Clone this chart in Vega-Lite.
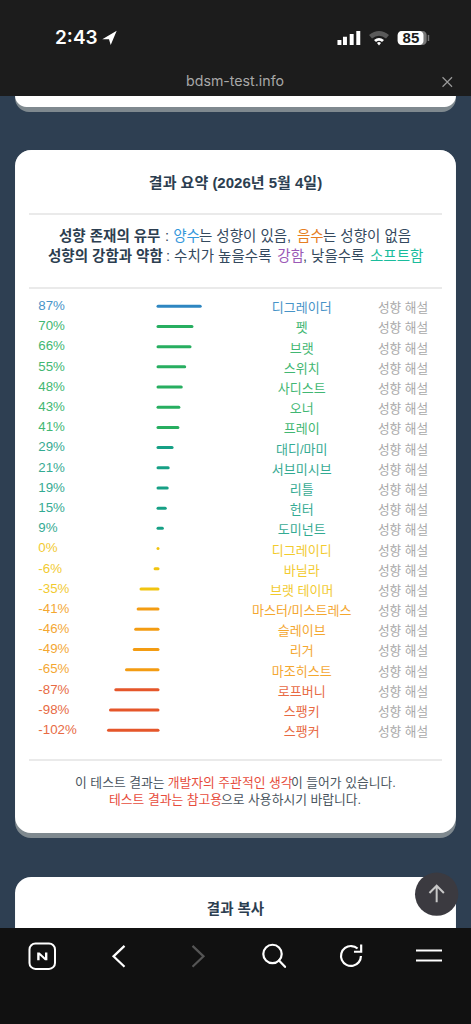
{
"$schema":"https://vega.github.io/schema/vega-lite/v6.json",
"width":471,"height":1024,"padding":0,
"autosize":{"type":"fit","contains":"padding"},
"background":"#2e3f52",
"config":{"view":{"stroke":null},"axis":{"disable":true},"text":{"font":"Liberation Sans, Noto Sans CJK KR","baseline":"middle"},"point":{"opacity":1}},
"datasets":{
"one":[{"id":1}],
"rows":[
{"rank":0,"v":87,"label":"87%","name":"디그레이더","band":"blue","link":"성향 해설"},
{"rank":1,"v":70,"label":"70%","name":"펫","band":"green","link":"성향 해설"},
{"rank":2,"v":66,"label":"66%","name":"브랫","band":"green","link":"성향 해설"},
{"rank":3,"v":55,"label":"55%","name":"스위치","band":"green","link":"성향 해설"},
{"rank":4,"v":48,"label":"48%","name":"사디스트","band":"green","link":"성향 해설"},
{"rank":5,"v":43,"label":"43%","name":"오너","band":"green","link":"성향 해설"},
{"rank":6,"v":41,"label":"41%","name":"프레이","band":"green","link":"성향 해설"},
{"rank":7,"v":29,"label":"29%","name":"대디/마미","band":"teal","link":"성향 해설"},
{"rank":8,"v":21,"label":"21%","name":"서브미시브","band":"teal","link":"성향 해설"},
{"rank":9,"v":19,"label":"19%","name":"리틀","band":"teal","link":"성향 해설"},
{"rank":10,"v":15,"label":"15%","name":"헌터","band":"teal","link":"성향 해설"},
{"rank":11,"v":9,"label":"9%","name":"도미넌트","band":"teal","link":"성향 해설"},
{"rank":12,"v":0,"label":"0%","name":"디그레이디","band":"yellow","link":"성향 해설"},
{"rank":13,"v":-6,"label":"-6%","name":"바닐라","band":"yellow","link":"성향 해설"},
{"rank":14,"v":-35,"label":"-35%","name":"브랫 테이머","band":"yellow","link":"성향 해설"},
{"rank":15,"v":-41,"label":"-41%","name":"마스터/미스트레스","band":"orange","link":"성향 해설"},
{"rank":16,"v":-46,"label":"-46%","name":"슬레이브","band":"orange","link":"성향 해설"},
{"rank":17,"v":-49,"label":"-49%","name":"리거","band":"orange","link":"성향 해설"},
{"rank":18,"v":-65,"label":"-65%","name":"마조히스트","band":"orange","link":"성향 해설"},
{"rank":19,"v":-87,"label":"-87%","name":"로프버니","band":"red","link":"성향 해설"},
{"rank":20,"v":-98,"label":"-98%","name":"스팽키","band":"red","link":"성향 해설"},
{"rank":21,"v":-102,"label":"-102%","name":"스팽커","band":"red","link":"성향 해설"}
]},
"layer":[
{"data":{"name":"one"},"mark":{"type":"rect","cornerRadius":16,"color":"#7f898f"},"encoding":{"x":{"datum":-294.8,"scale":{"domain":[-325.8,645.4],"nice":false,"zero":false}},"x2":{"datum":614.4},"y":{"datum":-11,"scale":{"domain":[35.55,-15.17],"nice":false,"zero":false}},"y2":{"datum":-9.62}}},
{"data":{"name":"one"},"mark":{"type":"rect","cornerRadius":16,"color":"#ffffff"},"encoding":{"x":{"datum":-294.8},"x2":{"datum":614.4},"y":{"datum":-11},"y2":{"datum":-9.87}}},
{"data":{"name":"one"},"mark":{"type":"rect","cornerRadius":16,"color":"#7f898f"},"encoding":{"x":{"datum":-294.8},"x2":{"datum":614.4},"y":{"datum":-7.74},"y2":{"datum":26.34}}},
{"data":{"name":"one"},"mark":{"type":"rect","cornerRadius":16,"color":"#ffffff"},"encoding":{"x":{"datum":-294.8},"x2":{"datum":614.4},"y":{"datum":-7.74},"y2":{"datum":26.09}}},
{"data":{"name":"one"},"mark":{"type":"rect","cornerRadius":16,"color":"#ffffff"},"encoding":{"x":{"datum":-294.8},"x2":{"datum":614.4},"y":{"datum":28.27},"y2":{"datum":34}}},
{"data":{"name":"one"},"mark":{"type":"rule","color":"#e3e3e3","strokeWidth":1.5},"encoding":{"x":{"datum":-266},"x2":{"datum":585.6},"y":{"datum":-4.57}}},
{"data":{"name":"one"},"mark":{"type":"rule","color":"#e3e3e3","strokeWidth":1.5},"encoding":{"x":{"datum":-266},"x2":{"datum":585.6},"y":{"datum":-0.91}}},
{"data":{"name":"one"},"mark":{"type":"rule","color":"#e3e3e3","strokeWidth":1.5},"encoding":{"x":{"datum":-266},"x2":{"datum":585.6},"y":{"datum":22.47}}},
{"data":{"name":"one"},"mark":{"type":"text","text":"결과 요약 (2026년 5월 4일)","align":"center","fontSize":15,"fontWeight":"bold","color":"#2c3e50"},"encoding":{"x":{"datum":159.8},"y":{"datum":-6.11}}},
{"data":{"name":"one"},"mark":{"type":"text","text":"성향 존재의 유무","align":"left","fontSize":14.5,"fontWeight":"bold","color":"#2c3e50"},"encoding":{"x":{"datum":-204.1},"y":{"datum":-3.41}}},
{"data":{"name":"one"},"mark":{"type":"text","text":":","align":"left","fontSize":14.5,"color":"#34495e"},"encoding":{"x":{"datum":14.4},"y":{"datum":-3.41}}},
{"data":{"name":"one"},"mark":{"type":"text","text":"양수","align":"left","fontSize":14.5,"color":"#3498db"},"encoding":{"x":{"datum":31.5},"y":{"datum":-3.41}}},
{"data":{"name":"one"},"mark":{"type":"text","text":"는 성향이 있음,","align":"left","fontSize":14.5,"color":"#34495e"},"encoding":{"x":{"datum":84.5},"y":{"datum":-3.41}}},
{"data":{"name":"one"},"mark":{"type":"text","text":"음수","align":"left","fontSize":14.5,"color":"#e67e22"},"encoding":{"x":{"datum":286.6},"y":{"datum":-3.41}}},
{"data":{"name":"one"},"mark":{"type":"text","text":"는 성향이 없음","align":"left","fontSize":14.5,"color":"#34495e"},"encoding":{"x":{"datum":340.2},"y":{"datum":-3.41}}},
{"data":{"name":"one"},"mark":{"type":"text","text":"성향의 강함과 약함","align":"left","fontSize":14.5,"fontWeight":"bold","color":"#2c3e50"},"encoding":{"x":{"datum":-226.8},"y":{"datum":-2.44}}},
{"data":{"name":"one"},"mark":{"type":"text","text":": 수치가 높을수록","align":"left","fontSize":14.5,"color":"#34495e"},"encoding":{"x":{"datum":16.5},"y":{"datum":-2.44}}},
{"data":{"name":"one"},"mark":{"type":"text","text":"강함","align":"left","fontSize":14.5,"color":"#9b59b6"},"encoding":{"x":{"datum":246},"y":{"datum":-2.44}}},
{"data":{"name":"one"},"mark":{"type":"text","text":", 낮을수록","align":"left","fontSize":14.5,"color":"#34495e"},"encoding":{"x":{"datum":299},"y":{"datum":-2.44}}},
{"data":{"name":"one"},"mark":{"type":"text","text":"소프트함","align":"left","fontSize":14.5,"color":"#1abc9c"},"encoding":{"x":{"datum":437.1},"y":{"datum":-2.44}}},
{"data":{"name":"rows"},"mark":{"type":"rule","strokeWidth":3,"strokeCap":"round"},"encoding":{"x":{"field":"v","type":"quantitative"},"x2":{"datum":0},"y":{"field":"rank","type":"quantitative"},"color":{"field":"band","type":"nominal","legend":null,"scale":{"domain":["blue","green","teal","yellow","orange","red"],"range":["#2e86c1","#27ae60","#16a085","#f1c40f","#f39c12","#e5562a"]}}}},
{"data":{"name":"rows"},"mark":{"type":"text","align":"left","fontSize":13.3,"dy":-0.2,"opacity":0.88},"encoding":{"x":{"datum":-246.8},"y":{"field":"rank","type":"quantitative"},"text":{"field":"label"},"color":{"field":"band","type":"nominal","legend":null}}},
{"data":{"name":"rows"},"mark":{"type":"text","align":"center","fontSize":13,"dy":2,"opacity":0.88},"encoding":{"x":{"datum":296.3},"y":{"field":"rank","type":"quantitative"},"text":{"field":"name"},"color":{"field":"band","type":"nominal","legend":null}}},
{"data":{"name":"rows"},"mark":{"type":"text","align":"center","fontSize":12.7,"dy":2,"color":"#a9a9a9"},"encoding":{"x":{"datum":505.2},"y":{"field":"rank","type":"quantitative"},"text":{"field":"link"}}},
{"data":{"name":"one"},"mark":{"type":"text","text":"이 테스트 결과는","align":"left","fontSize":12.8,"color":"#4a5560"},"encoding":{"x":{"datum":-171.1},"y":{"datum":23.59}}},
{"data":{"name":"one"},"mark":{"type":"text","text":"개발자의 주관적인 생각","align":"left","fontSize":12.8,"color":"#e74c3c"},"encoding":{"x":{"datum":20},"y":{"datum":23.59}}},
{"data":{"name":"one"},"mark":{"type":"text","text":"이 들어가 있습니다.","align":"left","fontSize":12.8,"color":"#4a5560"},"encoding":{"x":{"datum":274.2},"y":{"datum":23.59}}},
{"data":{"name":"one"},"mark":{"type":"text","text":"테스트 결과는 참고용","align":"left","fontSize":12.8,"color":"#e74c3c"},"encoding":{"x":{"datum":-101},"y":{"datum":24.45}}},
{"data":{"name":"one"},"mark":{"type":"text","text":"으로 사용하시기 바랍니다.","align":"left","fontSize":12.8,"color":"#4a5560"},"encoding":{"x":{"datum":129.9},"y":{"datum":24.45}}},
{"data":{"name":"one"},"mark":{"type":"text","text":"결과 복사","align":"center","fontSize":14.5,"fontWeight":"bold","color":"#2c3e50"},"encoding":{"x":{"datum":159.8},"y":{"datum":29.9}}},
{"data":{"name":"one"},"mark":{"type":"rect","color":"#1c1c1c"},"encoding":{"x":{"datum":-325.8},"x2":{"datum":645.4},"y":{"datum":-15.17},"y2":{"datum":-10.42}}},
{"data":{"name":"one"},"mark":{"type":"rect","color":"#111111"},"encoding":{"x":{"datum":-325.8},"x2":{"datum":645.4},"y":{"datum":30.79},"y2":{"datum":35.55}}},
{"data":{"name":"one"},"mark":{"type":"text","text":"2:43","align":"left","font":"Inter","fontSize":19,"fontWeight":600,"color":"#ffffff"},"encoding":{"x":{"datum":-212.4},"y":{"datum":-13.29}}},
{"data":{"name":"one"},"mark":{"type":"point","filled":true,"color":"#ffffff","size":225,"shape":"M0.96 -0.96L-0.96 0.17L-0.07 0.17L0.16 0.93Z"},"encoding":{"x":{"datum":-100},"y":{"datum":-13.29}}},
{"data":{"name":"one"},"mark":{"type":"point","filled":true,"color":"#ffffff","size":576,"shape":"M-0.96 0.17H-0.63V0.58H-0.96Z M-0.5 -0.11H-0.17V0.58H-0.5Z M0.06 -0.33H0.39V0.58H0.06Z M0.61 -0.58H0.94V0.58H0.61Z"},"encoding":{"x":{"datum":393.8},"y":{"datum":-13.29}}},
{"data":{"name":"one"},"mark":{"type":"point","filled":true,"color":"#5a5a5a","size":400,"shape":"M-1 -0.3Q0 -1.1 1 -0.3L0.7 0.05Q0 -0.5 -0.7 0.05Z"},"encoding":{"x":{"datum":455.7},"y":{"datum":-13.29}}},
{"data":{"name":"one"},"mark":{"type":"point","filled":true,"color":"#ffffff","size":400,"shape":"M-0.5 0.2Q0 -0.2 0.5 0.2L0.3 0.4Q0 0.15 -0.3 0.4Z M-0.2 0.5Q0 0.32 0.2 0.5L0 0.75Z"},"encoding":{"x":{"datum":455.7},"y":{"datum":-13.29}}},
{"data":{"name":"one"},"mark":{"type":"rect","cornerRadius":4,"color":"#777777"},"encoding":{"x":{"datum":494.2},"x2":{"datum":554},"y":{"datum":-13.64},"y2":{"datum":-12.94}}},
{"data":{"name":"one"},"mark":{"type":"rect","cornerRadius":4,"color":"#ffffff"},"encoding":{"x":{"datum":494.2},"x2":{"datum":547.4},"y":{"datum":-13.64},"y2":{"datum":-12.94}}},
{"data":{"name":"one"},"mark":{"type":"rule","color":"#777777","strokeWidth":1.5},"encoding":{"x":{"datum":557.7},"y":{"datum":-13.44},"y2":{"datum":-13.14}}},
{"data":{"name":"one"},"mark":{"type":"text","text":"85","align":"center","fontSize":15,"fontWeight":"bold","color":"#1c1c1c"},"encoding":{"x":{"datum":521.6},"y":{"datum":-13.29}}},
{"data":{"name":"one"},"mark":{"type":"text","text":"bdsm-test.info","align":"center","font":"Inter","fontSize":14.2,"color":"#a8a8a8"},"encoding":{"x":{"datum":158.8},"y":{"datum":-11.11}}},
{"data":{"name":"one"},"mark":{"type":"point","filled":false,"stroke":"#9a9a9a","strokeWidth":1.2,"size":90,"shape":"M-1 -1L1 1M-1 1L1 -1"},"encoding":{"x":{"datum":596.5},"y":{"datum":-11.11}}},
{"data":{"name":"one"},"mark":{"type":"point","filled":true,"shape":"circle","size":1875,"color":"#3b3a40"},"encoding":{"x":{"datum":574.6},"y":{"datum":29.12}}},
{"data":{"name":"one"},"mark":{"type":"point","filled":false,"stroke":"#c8c8c8","strokeWidth":2,"size":400,"shape":"M0 0.8V-0.85M-0.72 -0.12L0 -0.85L0.72 -0.12"},"encoding":{"x":{"datum":574.6},"y":{"datum":29.12}}},
{"data":{"name":"one"},"mark":{"type":"rect","cornerRadius":6,"fillOpacity":0,"stroke":"#ffffff","strokeWidth":2},"encoding":{"x":{"datum":-265},"x2":{"datum":-212.4},"y":{"datum":31.56},"y2":{"datum":32.82}}},
{"data":{"name":"one"},"mark":{"type":"point","filled":true,"color":"#ffffff","size":144,"shape":"M-0.85 0.65V-0.65H-0.45L0.45 0.2V-0.65H0.85V0.65H0.45L-0.45 -0.2V0.65Z"},"encoding":{"x":{"datum":-238.6},"y":{"datum":32.2}}},
{"data":{"name":"one"},"mark":{"type":"point","filled":false,"stroke":"#ffffff","strokeWidth":2.2,"size":484,"shape":"M0.5 -0.95L-0.5 0L0.5 0.95"},"encoding":{"x":{"datum":-80.4},"y":{"datum":32.2}}},
{"data":{"name":"one"},"mark":{"type":"point","filled":false,"stroke":"#555555","strokeWidth":2.2,"size":484,"shape":"M-0.5 -0.95L0.5 0L-0.5 0.95"},"encoding":{"x":{"datum":82.5},"y":{"datum":32.2}}},
{"data":{"name":"one"},"mark":{"type":"point","filled":false,"shape":"circle","stroke":"#ffffff","strokeWidth":2.2,"size":339},"encoding":{"x":{"datum":236.1},"y":{"datum":32.08}}},
{"data":{"name":"one"},"mark":{"type":"rule","color":"#ffffff","strokeWidth":2.2,"strokeCap":"round"},"encoding":{"x":{"datum":249.5},"x2":{"datum":261.9},"y":{"datum":32.4},"y2":{"datum":32.72}}},
{"data":{"name":"one"},"mark":{"type":"point","filled":false,"stroke":"#ffffff","strokeWidth":2.2,"size":576,"shape":"M0.55 -0.62A0.83 0.83 0 1 0 0.83 0M0.85 -0.95V-0.35H0.25"},"encoding":{"x":{"datum":397.9},"y":{"datum":32.18}}},
{"data":{"name":"one"},"mark":{"type":"point","filled":false,"stroke":"#ffffff","strokeWidth":2,"size":676,"shape":"M-1 -0.385H1M-1 0.385H1"},"encoding":{"x":{"datum":558.8},"y":{"datum":32.16}}}
]}
